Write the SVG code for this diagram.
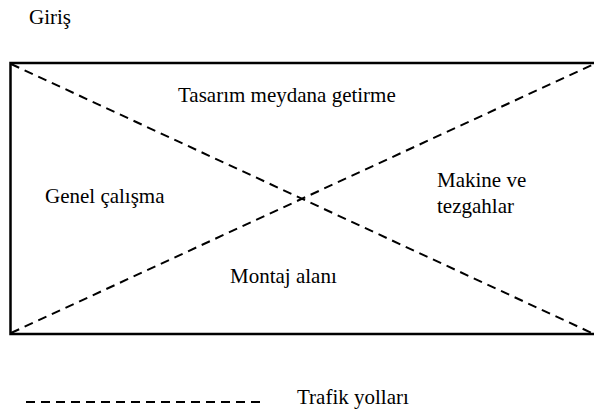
<svg xmlns="http://www.w3.org/2000/svg" width="594" height="414" viewBox="0 0 594 414">
  <defs>
    <style>
      .frame { fill: none; stroke: #000; stroke-width: 2.5; }
      .route { fill: none; stroke: #000; stroke-width: 2; stroke-dasharray: 9 6; }
    </style>
  </defs>
  <rect width="594" height="414" fill="#fff"/>

  <text id="entrance" x="29" y="24" font-family="Liberation Serif" font-size="21">Giriş</text>

  <!-- workshop outline, open on the right side -->
  <path id="workshop" class="frame" d="M594,63 H10.5 V334 H594"/>

  <!-- traffic routes crossing the floor -->
  <g id="connectors">
    <line class="route" x1="11" y1="64" x2="594" y2="334"/>
    <line class="route" x1="11" y1="333" x2="594" y2="64"/>
  </g>

  <g id="design">
    <text x="178" y="102" font-family="Liberation Serif" font-size="21">Tasarım meydana getirme</text>
  </g>
  <g id="general">
    <text x="45" y="203" font-family="Liberation Serif" font-size="21">Genel çalışma</text>
  </g>
  <g id="machines">
    <text x="437" y="187" font-family="Liberation Serif" font-size="21">Makine ve</text>
    <text x="437" y="213" font-family="Liberation Serif" font-size="21">tezgahlar</text>
  </g>
  <g id="assembly">
    <text x="230" y="283" font-family="Liberation Serif" font-size="21">Montaj alanı</text>
  </g>

  <g id="legend">
    <line class="route" x1="26" y1="402" x2="260" y2="402" stroke-dasharray="8 6.5"/>
    <text x="297" y="404" font-family="Liberation Serif" font-size="21">Trafik yolları</text>
  </g>
</svg>
